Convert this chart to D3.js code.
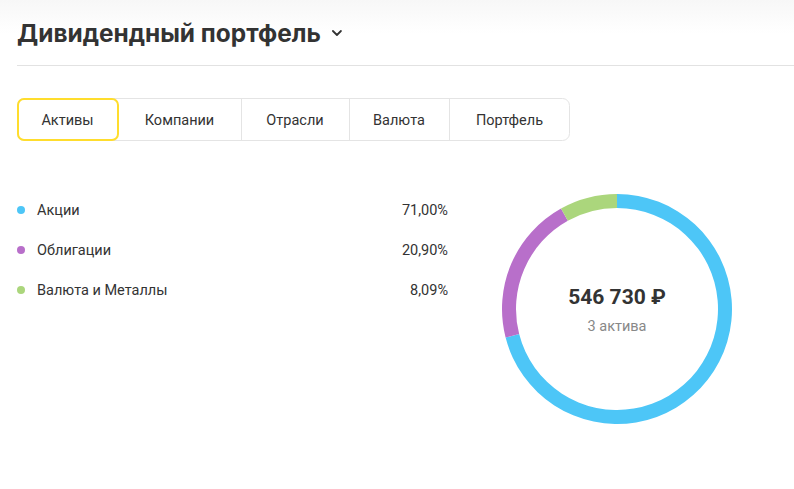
<!DOCTYPE html>
<html><head><meta charset="utf-8">
<script src="https://cdn.jsdelivr.net/npm/d3@7"></script>
<style>
html,body{margin:0;padding:0;background:#fff;}
svg{display:block;}
</style></head>
<body>
<svg id="c" width="794" height="489"></svg>
<script>
const title = "Дивидендный портфель";
const tabs = ["Активы","Компании","Отрасли","Валюта","Портфель"];
const categories = ["Акции","Облигации","Валюта и Металлы"];
const values = [71.00, 20.90, 8.09];
const valueLabels = ["71,00%","20,90%","8,09%"];
const colors = ["#4dc6f7","#b86fca","#abd67c"];
const totalLabel = "546 730 ₽";
const countLabel = "3 актива";

const svg = d3.select("#c");
const defs = svg.append("defs");
const g = defs.append("linearGradient").attr("id","bg").attr("x1",0).attr("x2",0).attr("y1",0).attr("y2",1);
g.append("stop").attr("offset","0").attr("stop-color","#f7f7f7");
g.append("stop").attr("offset","1").attr("stop-color","#ffffff");
svg.append("rect").attr("x",0).attr("y",0).attr("width",794).attr("height",34).attr("fill","url(#bg)");

// title (fit to reference width)
const tt = svg.append("text").attr("x",17).attr("y",42)
  .attr("font-family","Inter, Roboto, sans-serif").attr("font-weight",700).attr("font-size",24)
  .attr("fill","#333").text(title);
let tw = tt.node().getComputedTextLength();
const fs = 24 * 304 / tw;
tt.attr("font-size", fs);
tw = tt.node().getComputedTextLength();
svg.append("path").attr("d",`M${17+tw+12},31 l4,4 l4,-4`).attr("fill","none")
  .attr("stroke","#333").attr("stroke-width",1.8).attr("stroke-linecap","round").attr("stroke-linejoin","round");
svg.append("line").attr("x1",17).attr("x2",794).attr("y1",65.5).attr("y2",65.5).attr("stroke","#e2e2e2");

// tabs
const tabEdges = [17,118,241,349,449,570];
const tabY = 98, tabH = 43;
svg.append("rect").attr("x",17.5).attr("y",tabY+0.5).attr("width",570-17-1).attr("height",tabH-1)
  .attr("rx",7).attr("fill","#fff").attr("stroke","#e4e4e4");
tabs.forEach((t,i)=>{
  if(i>1) svg.append("line").attr("x1",tabEdges[i]+0.5).attr("x2",tabEdges[i]+0.5).attr("y1",tabY+1).attr("y2",tabY+tabH-1).attr("stroke","#e4e4e4");
  svg.append("text").attr("x",(tabEdges[i]+tabEdges[i+1])/2).attr("y",tabY+27)
    .attr("text-anchor","middle").attr("font-family","Roboto, sans-serif").attr("font-size",14.5)
    .attr("fill","#333").text(t);
});
svg.append("rect").attr("x",18).attr("y",tabY+1).attr("width",118-18).attr("height",tabH-2)
  .attr("rx",6).attr("fill","none").attr("stroke","#ffdd2d").attr("stroke-width",2);

// legend
const ly = d3.scalePoint().domain(categories).range([210,290]);
const color = d3.scaleOrdinal().domain(categories).range(colors);
categories.forEach((c,i)=>{
  svg.append("circle").attr("cx",21).attr("cy",ly(c)).attr("r",4).attr("fill",color(c));
  svg.append("text").attr("x",37).attr("y",ly(c)+5).attr("font-family","Roboto, sans-serif")
    .attr("font-size",14.5).attr("fill","#333").text(c);
  svg.append("text").attr("x",448).attr("y",ly(c)+5).attr("text-anchor","end").attr("font-family","Roboto, sans-serif")
    .attr("font-size",14.5).attr("fill","#333").text(valueLabels[i]);
});

// donut
const cx = 617, cy = 309;
const pie = d3.pie().sort(null).value(d=>d.v);
const arc = d3.arc().innerRadius(101).outerRadius(115);
const data = categories.map((c,i)=>({c, v: values[i]}));
const dg = svg.append("g").attr("transform",`translate(${cx},${cy})`);
dg.selectAll("path").data(pie(data)).join("path").attr("d",arc).attr("fill",d=>color(d.data.c));
dg.append("text").attr("y",-5).attr("text-anchor","middle").attr("font-family","Roboto, sans-serif")
  .attr("font-weight",700).attr("font-size",21).attr("fill","#333").text(totalLabel);
dg.append("text").attr("y",22).attr("text-anchor","middle").attr("font-family","Roboto, sans-serif")
  .attr("font-size",14.5).attr("fill","#888").text(countLabel);
</script>
</body></html>
